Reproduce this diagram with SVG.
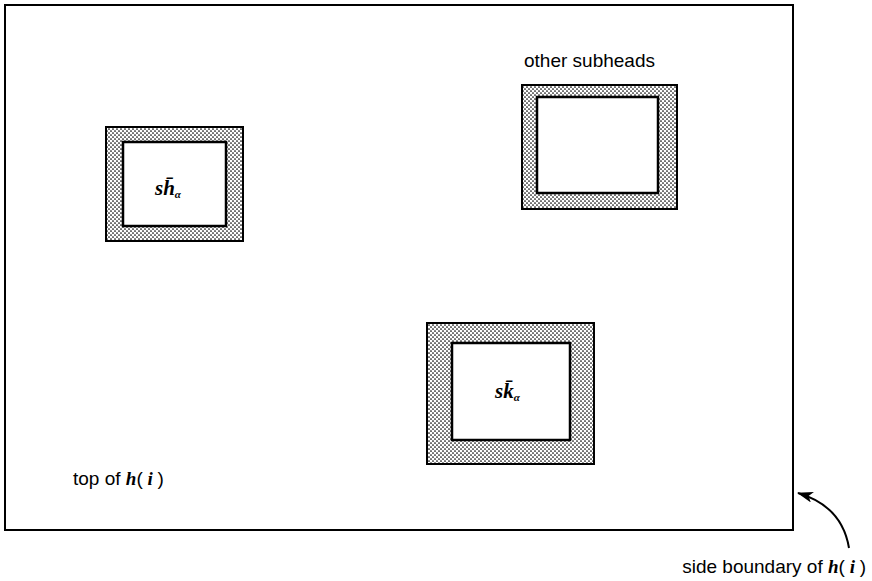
<svg xmlns="http://www.w3.org/2000/svg" width="872" height="581" viewBox="0 0 872 581">
<defs>
<pattern id="dots" width="4" height="4" patternUnits="userSpaceOnUse">
<rect width="4" height="4" fill="#fff"/>
<circle cx="1" cy="1" r="0.85" fill="#000"/>
<circle cx="3" cy="3" r="0.85" fill="#000"/>
</pattern>
<marker id="ah" markerWidth="16" markerHeight="11" refX="15" refY="5.5" orient="auto" markerUnits="userSpaceOnUse">
<path d="M0,0 L16,5.5 L0,11 L4,5.5 Z" fill="#000"/>
</marker>
<style>
.frame{fill:#fff;stroke:#000;stroke-width:2}
.outer{fill:url(#dots);stroke:#000;stroke-width:2}
.inner{fill:#fff;stroke:#000;stroke-width:2.5}
.t{font-family:"Liberation Sans","DejaVu Sans",sans-serif;font-size:19px;fill:#000}
.m{font-family:"Liberation Serif","DejaVu Serif",serif;font-style:italic;font-weight:bold}
.lab{font-family:"Liberation Serif","DejaVu Serif",serif;font-style:italic;font-weight:bold;font-size:21px;fill:#000}
.sub{font-size:11px}
</style>
</defs>
<rect id="frame" class="frame" x="5" y="5" width="788" height="525"/>
<g id="node-sh">
<rect class="outer" x="106" y="127" width="137" height="114"/>
<rect class="inner" x="123" y="142" width="103" height="84"/>
<text class="lab" x="155" y="195">sh̄<tspan class="sub" dy="3">α</tspan></text>
</g>
<g id="node-other">
<rect class="outer" x="522" y="85" width="155" height="124"/>
<rect class="inner" x="537" y="97" width="121" height="96"/>
</g>
<g id="node-sk">
<rect class="outer" x="427" y="323" width="167" height="141"/>
<rect class="inner" x="452" y="343" width="118" height="97"/>
<text class="lab" x="495" y="398">sk̄<tspan class="sub" dy="3">α</tspan></text>
</g>
<g id="labels">
<text class="t" x="73" y="485">top of <tspan class="m">h</tspan>(<tspan class="m"> i </tspan>)</text>
<text class="t" x="524" y="67">other subheads</text>
<text class="t" x="866" y="573" text-anchor="end">side boundary of <tspan class="m">h</tspan>(<tspan class="m"> i </tspan>)</text>
</g>
<g id="connectors">
<path d="M849,548 Q842,506 798,493" fill="none" stroke="#000" stroke-width="2" marker-end="url(#ah)"/>
</g>
</svg>
